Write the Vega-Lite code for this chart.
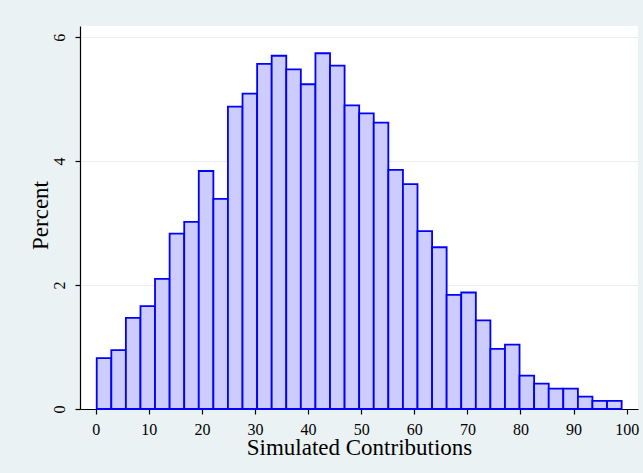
{
  "$schema": "https://vega.github.io/schema/vega-lite/v6.json",
  "width": 558,
  "height": 383,
  "autosize": {"type": "none"},
  "padding": {"left": 80, "top": 26, "right": 5, "bottom": 64},
  "background": "#eaf2f3",
  "config": {
    "view": {"fill": "#ffffff", "stroke": null},
    "font": "Liberation Serif"
  },
  "data": {
    "values": [
      {"x0": 0.19, "x1": 2.94, "pct": 0.82},
      {"x0": 2.94, "x1": 5.68, "pct": 0.95},
      {"x0": 5.68, "x1": 8.43, "pct": 1.47},
      {"x0": 8.43, "x1": 11.17, "pct": 1.66},
      {"x0": 11.17, "x1": 13.92, "pct": 2.10},
      {"x0": 13.92, "x1": 16.67, "pct": 2.83},
      {"x0": 16.67, "x1": 19.41, "pct": 3.02},
      {"x0": 19.41, "x1": 22.16, "pct": 3.84},
      {"x0": 22.16, "x1": 24.90, "pct": 3.39},
      {"x0": 24.90, "x1": 27.65, "pct": 4.88},
      {"x0": 27.65, "x1": 30.40, "pct": 5.09},
      {"x0": 30.40, "x1": 33.14, "pct": 5.57},
      {"x0": 33.14, "x1": 35.89, "pct": 5.70},
      {"x0": 35.89, "x1": 38.63, "pct": 5.48},
      {"x0": 38.63, "x1": 41.38, "pct": 5.24},
      {"x0": 41.38, "x1": 44.13, "pct": 5.74},
      {"x0": 44.13, "x1": 46.87, "pct": 5.54},
      {"x0": 46.87, "x1": 49.62, "pct": 4.90},
      {"x0": 49.62, "x1": 52.36, "pct": 4.77},
      {"x0": 52.36, "x1": 55.11, "pct": 4.62},
      {"x0": 55.11, "x1": 57.86, "pct": 3.86},
      {"x0": 57.86, "x1": 60.60, "pct": 3.63},
      {"x0": 60.60, "x1": 63.35, "pct": 2.87},
      {"x0": 63.35, "x1": 66.09, "pct": 2.61},
      {"x0": 66.09, "x1": 68.84, "pct": 1.84},
      {"x0": 68.84, "x1": 71.59, "pct": 1.88},
      {"x0": 71.59, "x1": 74.33, "pct": 1.43},
      {"x0": 74.33, "x1": 77.08, "pct": 0.97},
      {"x0": 77.08, "x1": 79.82, "pct": 1.04},
      {"x0": 79.82, "x1": 82.57, "pct": 0.54},
      {"x0": 82.57, "x1": 85.32, "pct": 0.41},
      {"x0": 85.32, "x1": 88.06, "pct": 0.33},
      {"x0": 88.06, "x1": 90.81, "pct": 0.33},
      {"x0": 90.81, "x1": 93.55, "pct": 0.20},
      {"x0": 93.55, "x1": 96.30, "pct": 0.13},
      {"x0": 96.30, "x1": 99.05, "pct": 0.13}
    ]
  },
  "mark": {"type": "rect", "fill": "#ccccff", "stroke": "#0000ff", "strokeWidth": 1.8},
  "encoding": {
    "x": {
      "field": "x0",
      "type": "quantitative",
      "scale": {"domain": [-2.96, 102.13], "nice": false, "zero": false},
      "axis": {
        "title": "Simulated Contributions",
        "values": [0, 10, 20, 30, 40, 50, 60, 70, 80, 90, 100],
        "grid": false,
        "domainColor": "#000000",
        "domainWidth": 1.2,
        "tickColor": "#000000",
        "tickSize": 5,
        "tickWidth": 1.2,
        "labelFont": "Liberation Serif",
        "labelFontSize": 16,
        "labelColor": "#000000",
        "labelBaseline": "alphabetic",
        "labelPadding": 20,
        "labelFlush": false,
        "labelOverlap": false,
        "titleFont": "Liberation Serif",
        "titleFontSize": 23,
        "titleFontWeight": "normal",
        "titleColor": "#000000",
        "titleBaseline": "alphabetic",
        "titleY": 45
      }
    },
    "x2": {"field": "x1"},
    "y": {
      "field": "pct",
      "type": "quantitative",
      "scale": {"domain": [0, 6.18], "nice": false},
      "axis": {
        "title": "Percent",
        "values": [0, 2, 4, 6],
        "grid": true,
        "gridColor": "#eaf0f0",
        "gridWidth": 1.2,
        "domainColor": "#000000",
        "domainWidth": 1.2,
        "tickColor": "#000000",
        "tickSize": 5,
        "tickWidth": 1.2,
        "labelFont": "Liberation Serif",
        "labelFontSize": 16,
        "labelColor": "#000000",
        "labelAngle": -90,
        "labelAlign": "center",
        "labelBaseline": "alphabetic",
        "labelPadding": 11,
        "labelFlush": false,
        "titleFont": "Liberation Serif",
        "titleFontSize": 23,
        "titleFontWeight": "normal",
        "titleColor": "#000000",
        "titleBaseline": "alphabetic",
        "titleAlign": "center",
        "titleX": -33,
        "titleY": 189
      }
    },
    "y2": {"datum": 0}
  }
}
